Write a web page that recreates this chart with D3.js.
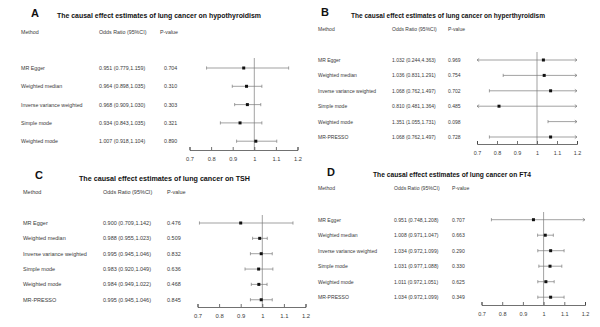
<!DOCTYPE html>
<html>
<head>
<meta charset="utf-8">
<script src="https://cdn.jsdelivr.net/npm/d3@7"></script>
<style>
  html, body { margin: 0; padding: 0; background: #fff; }
  svg { display: block; font-family: "Liberation Sans", Arial, sans-serif; }
</style>
</head>
<body>
<svg id="chart" width="600" height="327"></svg>
<script>
// ---- data ----
const axisTicks = [0.7, 0.8, 0.9, 1, 1.1, 1.2];

const titleA = 'The causal effect estimates of lung cancer on hypothyroidism';
const methodsA = ['MR Egger', 'Weighted median', 'Inverse variance weighted', 'Simple mode', 'Weighted mode'];
const orA = [0.951, 0.964, 0.968, 0.934, 1.007];
const loA = [0.779, 0.898, 0.909, 0.843, 0.918];
const hiA = [1.159, 1.035, 1.030, 1.035, 1.104];
const pA = ['0.704', '0.310', '0.303', '0.321', '0.890'];

const titleB = 'The causal effect estimates of lung cancer on hyperthyroidism';
const methodsB = ['MR Egger', 'Weighted median', 'Inverse variance weighted', 'Simple mode', 'Weighted mode', 'MR-PRESSO'];
const orB = [1.032, 1.036, 1.068, 0.810, 1.351, 1.068];
const loB = [0.244, 0.831, 0.762, 0.481, 1.055, 0.762];
const hiB = [4.363, 1.291, 1.497, 1.364, 1.731, 1.497];
const pB = ['0.969', '0.754', '0.702', '0.485', '0.098', '0.728'];

const titleC = 'The causal effect estimates of lung cancer on TSH';
const methodsC = ['MR Egger', 'Weighted median', 'Inverse variance weighted', 'Simple mode', 'Weighted mode', 'MR-PRESSO'];
const orC = [0.900, 0.988, 0.995, 0.983, 0.984, 0.995];
const loC = [0.709, 0.955, 0.945, 0.920, 0.949, 0.945];
const hiC = [1.142, 1.023, 1.046, 1.049, 1.022, 1.046];
const pC = ['0.476', '0.509', '0.832', '0.636', '0.468', '0.845'];

const titleD = 'The causal effect estimates of lung cancer on FT4';
const methodsD = ['MR Egger', 'Weighted median', 'Inverse variance weighted', 'Simple mode', 'Weighted mode', 'MR-PRESSO'];
const orD = [0.951, 1.008, 1.034, 1.031, 1.011, 1.034];
const loD = [0.748, 0.971, 0.972, 0.977, 0.972, 0.972];
const hiD = [1.208, 1.047, 1.099, 1.088, 1.051, 1.099];
const pD = ['0.707', '0.663', '0.290', '0.330', '0.625', '0.349'];

// ---- layout per panel (the four plots were pasted at slightly different sizes) ----
const panels = [
  { letter: 'A', title: titleA, methods: methodsA, or: orA, lo: loA, hi: hiA, p: pA,
    letterX: 35, letterY: 13, titleX: 159, titleY: 15, titleW: 204,
    headY: 32, colM: 21, colOR: 99, colP: 164, colPHead: 160, fs: 5.3,
    row0: 68, rowStep: 18.3, x0: 189.5, x1: 297.5, axisY: 150, vTop: 58 },
  { letter: 'B', title: titleB, methods: methodsB, or: orB, lo: loB, hi: hiB, p: pB,
    letterX: 325, letterY: 12, titleX: 448, titleY: 15, titleW: 194,
    headY: 29, colM: 318, colOR: 392, colP: 448, colPHead: 448, fs: 5.0,
    row0: 60, rowStep: 15.4, x0: 477, x1: 577, axisY: 144, vTop: 52 },
  { letter: 'C', title: titleC, methods: methodsC, or: orC, lo: loC, hi: hiC, p: pC,
    letterX: 39, letterY: 175, titleX: 164.5, titleY: 178, titleW: 171,
    headY: 192, colM: 23, colOR: 103, colP: 167, colPHead: 167, fs: 5.5,
    row0: 223, rowStep: 15.35, x0: 197.5, x1: 305.5, axisY: 307, vTop: 215 },
  { letter: 'D', title: titleD, methods: methodsD, or: orD, lo: loD, hi: hiD, p: pD,
    letterX: 331, letterY: 172, titleX: 452, titleY: 174, titleW: 158,
    headY: 188, colM: 318, colOR: 394, colP: 452, colPHead: 452, fs: 5.1,
    row0: 219.7, rowStep: 15.5, x0: 481.5, x1: 585, axisY: 305, vTop: 212 }
];

const svg = d3.select('#chart');
const fmt = d3.format('.3f');
const lineCol = '#7a7a7a';
const textCol = '#3a3a3a';

panels.forEach(pn => {
  const g = svg.append('g');
  const n = pn.methods.length;
  const rows = d3.range(n);

  const x = d3.scaleLinear().domain([0.7, 1.2]).range([pn.x0, pn.x1]);
  const y = d3.scalePoint().domain(rows).range([pn.row0, pn.row0 + pn.rowStep * (n - 1)]);

  // panel letter + title
  g.append('text')
    .attr('x', pn.letterX).attr('y', pn.letterY)
    .attr('text-anchor', 'middle').attr('dominant-baseline', 'central')
    .attr('font-size', 11).attr('font-weight', 'bold').attr('fill', '#111')
    .text(pn.letter);

  g.append('text')
    .attr('x', pn.titleX).attr('y', pn.titleY)
    .attr('text-anchor', 'middle').attr('dominant-baseline', 'central')
    .attr('font-size', 7).attr('font-weight', 'bold').attr('fill', '#111')
    .attr('textLength', pn.titleW).attr('lengthAdjust', 'spacingAndGlyphs')
    .text(pn.title);

  // column headers
  const head = [['Method', pn.colM], ['Odds Ratio (95%CI)', pn.colOR], ['P-value', pn.colPHead]];
  g.selectAll('.head').data(head).enter().append('text')
    .attr('x', d => d[1]).attr('y', pn.headY)
    .attr('dominant-baseline', 'central')
    .attr('font-size', pn.fs).attr('fill', textCol)
    .text(d => d[0]);

  // table rows
  const cell = (xPos, fn) => g.selectAll(null).data(rows).enter().append('text')
    .attr('x', xPos).attr('y', i => y(i))
    .attr('dominant-baseline', 'central')
    .attr('font-size', pn.fs).attr('fill', textCol)
    .text(fn);
  cell(pn.colM, i => pn.methods[i]);
  cell(pn.colOR, i => `${fmt(pn.or[i])} (${fmt(pn.lo[i])},${fmt(pn.hi[i])})`);
  cell(pn.colP, i => pn.p[i]);

  // reference line at OR = 1
  g.append('line')
    .attr('x1', x(1)).attr('x2', x(1))
    .attr('y1', pn.vTop).attr('y2', pn.axisY)
    .attr('stroke', lineCol).attr('stroke-width', 0.7);

  // axis
  const ax = g.append('g')
    .attr('transform', `translate(0,${pn.axisY})`)
    .call(d3.axisBottom(x).tickValues(axisTicks).tickFormat(d3.format('~g'))
      .tickSizeInner(-3).tickSizeOuter(-3).tickPadding(7));
  ax.selectAll('path, line').attr('stroke', '#333').attr('stroke-width', 0.7);
  ax.selectAll('text').attr('font-size', pn.fs + 0.4).attr('fill', textCol)
    .attr('font-family', '"Liberation Sans", Arial, sans-serif');

  // CI lines, whiskers or arrows where clipped
  const lo = 0.7, hi = 1.2, cap = 1.6, ah = 2.2;
  rows.forEach(i => {
    const a = Math.max(pn.lo[i], lo), b = Math.min(pn.hi[i], hi);
    const yy = y(i);
    g.append('line')
      .attr('x1', x(a)).attr('x2', x(b)).attr('y1', yy).attr('y2', yy)
      .attr('stroke', lineCol).attr('stroke-width', 0.7);
    // left end
    if (pn.lo[i] < lo) {
      g.append('path').attr('d', `M${x(a) + ah},${yy - ah * 0.7}L${x(a)},${yy}L${x(a) + ah},${yy + ah * 0.7}`)
        .attr('fill', 'none').attr('stroke', lineCol).attr('stroke-width', 0.7);
    } else {
      g.append('line').attr('x1', x(a)).attr('x2', x(a)).attr('y1', yy - cap).attr('y2', yy + cap)
        .attr('stroke', lineCol).attr('stroke-width', 0.7);
    }
    // right end
    if (pn.hi[i] > hi) {
      g.append('path').attr('d', `M${x(b) - ah},${yy - ah * 0.7}L${x(b)},${yy}L${x(b) - ah},${yy + ah * 0.7}`)
        .attr('fill', 'none').attr('stroke', lineCol).attr('stroke-width', 0.7);
    } else {
      g.append('line').attr('x1', x(b)).attr('x2', x(b)).attr('y1', yy - cap).attr('y2', yy + cap)
        .attr('stroke', lineCol).attr('stroke-width', 0.7);
    }
  });

  // point estimates (only inside the axis range)
  g.selectAll('.pt').data(rows.filter(i => pn.or[i] >= lo && pn.or[i] <= hi)).enter().append('rect')
    .attr('x', i => x(pn.or[i]) - 1.5).attr('y', i => y(i) - 1.5)
    .attr('width', 3).attr('height', 3)
    .attr('fill', '#111');
});
</script>
</body>
</html>
